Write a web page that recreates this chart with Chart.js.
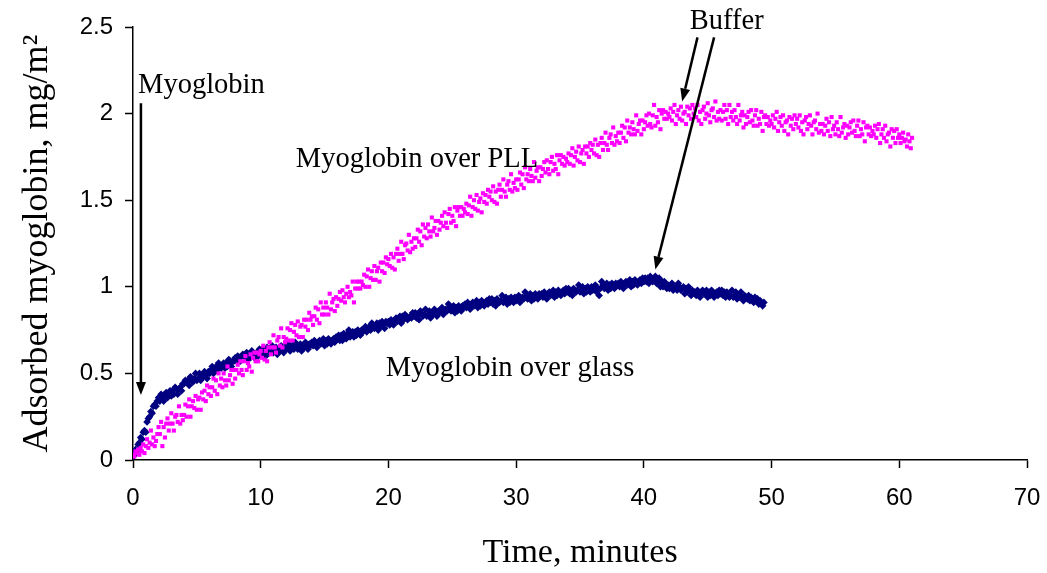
<!DOCTYPE html>
<html>
<head>
<meta charset="utf-8">
<title>Myoglobin adsorption</title>
<script src="https://cdn.jsdelivr.net/npm/chart.js@4/dist/chart.umd.min.js"></script>
<style>
  html, body { margin: 0; padding: 0; background: #fff; }
  #wrap { width: 1047px; height: 573px; }
</style>
</head>
<body>
<div id="wrap"><canvas id="adsChart" width="1047" height="573"></canvas></div>
<script>
// sampling interval of the adsorption run, minutes
const sampleStep = 0.1;

// adsorbed myoglobin over PLL, mg/m2, one reading every 0.1 min from t = 0 (2 min per row)
const pllValues = [
  0.03,0.02,0.05,0.04,0.06,0.03,0.07,0.05,0.09,0.04,0.08,0.12,0.07,0.10,0.17,0.09,0.13,0.08,0.11,0.15,
  0.19,0.15,0.22,0.08,0.19,0.13,0.21,0.24,0.17,0.21,0.27,0.21,0.17,0.25,0.26,0.22,0.31,0.21,0.26,0.23,
  0.26,0.32,0.25,0.31,0.35,0.25,0.31,0.34,0.30,0.37,0.29,0.35,0.36,0.29,0.39,0.35,0.40,0.34,0.43,0.38,
  0.42,0.37,0.42,0.47,0.40,0.46,0.38,0.50,0.43,0.47,0.42,0.50,0.46,0.43,0.54,0.46,0.49,0.52,0.44,0.52,
  0.47,0.52,0.55,0.50,0.57,0.52,0.49,0.57,0.60,0.52,0.56,0.54,0.61,0.51,0.59,0.62,0.57,0.62,0.57,0.61,
  0.63,0.59,0.66,0.58,0.63,0.57,0.65,0.68,0.61,0.65,0.72,0.65,0.62,0.69,0.71,0.66,0.76,0.65,0.71,0.68,
  0.70,0.76,0.69,0.75,0.79,0.69,0.74,0.78,0.72,0.80,0.71,0.77,0.78,0.71,0.81,0.77,0.81,0.75,0.85,0.81,
  0.83,0.78,0.83,0.88,0.81,0.87,0.79,0.91,0.84,0.88,0.84,0.91,0.88,0.84,0.96,0.87,0.91,0.93,0.86,0.94,
  0.89,0.93,0.97,0.92,0.98,0.94,0.91,0.96,1.00,0.94,0.97,0.95,1.03,0.91,0.99,1.03,0.99,1.03,0.99,1.03,
  1.01,1.07,1.00,1.06,1.10,1.00,1.05,1.09,1.04,1.12,1.04,1.09,1.11,1.03,1.14,1.09,1.14,1.08,1.17,1.13,
  1.16,1.12,1.19,1.11,1.17,1.10,1.19,1.22,1.15,1.19,1.26,1.19,1.16,1.24,1.25,1.21,1.30,1.20,1.26,1.22,
  1.28,1.23,1.28,1.33,1.26,1.32,1.24,1.36,1.29,1.34,1.28,1.36,1.32,1.29,1.40,1.32,1.34,1.38,1.30,1.38,
  1.33,1.37,1.41,1.35,1.43,1.37,1.34,1.42,1.45,1.37,1.41,1.38,1.46,1.35,1.44,1.46,1.41,1.46,1.41,1.45,
  1.43,1.48,1.42,1.47,1.52,1.41,1.46,1.50,1.45,1.53,1.44,1.49,1.51,1.43,1.54,1.49,1.53,1.48,1.56,1.52,
  1.55,1.50,1.58,1.49,1.55,1.48,1.56,1.59,1.52,1.56,1.62,1.55,1.52,1.59,1.61,1.56,1.65,1.55,1.60,1.57,
  1.62,1.56,1.62,1.66,1.59,1.65,1.57,1.69,1.62,1.65,1.61,1.68,1.64,1.61,1.72,1.63,1.67,1.69,1.61,1.69,
  1.64,1.68,1.72,1.66,1.73,1.68,1.65,1.72,1.75,1.67,1.71,1.68,1.76,1.65,1.73,1.76,1.71,1.75,1.70,1.74,
  1.72,1.77,1.71,1.76,1.80,1.70,1.75,1.78,1.73,1.81,1.72,1.77,1.79,1.71,1.81,1.77,1.81,1.75,1.83,1.79,
  1.82,1.77,1.85,1.76,1.82,1.75,1.83,1.86,1.79,1.83,1.89,1.82,1.79,1.86,1.88,1.83,1.92,1.82,1.87,1.84,
  1.89,1.83,1.89,1.93,1.86,1.92,1.84,1.96,1.89,1.92,1.88,1.95,1.91,1.88,1.99,1.90,1.94,1.96,1.88,1.96,
  1.91,1.95,1.99,1.93,2.00,1.94,1.92,1.99,2.05,1.93,1.98,1.95,2.02,1.91,2.00,2.02,1.97,2.01,1.97,2.00,
  1.98,2.03,1.96,2.01,2.05,1.94,1.99,2.02,1.97,2.04,1.96,2.00,2.01,1.94,2.04,1.99,2.03,1.97,2.05,2.00,
  2.03,1.98,2.05,1.96,2.01,1.94,2.02,2.04,1.97,2.00,2.06,1.99,1.95,2.02,2.03,1.98,2.07,1.96,2.01,1.97,
  2.02,1.96,2.01,2.05,1.97,2.02,1.94,2.05,1.98,2.01,1.96,2.02,1.98,1.94,2.05,1.96,1.99,2.01,1.92,1.99,
  1.94,1.98,2.01,1.95,2.02,1.96,1.93,1.99,2.02,1.93,1.97,1.94,2.01,1.90,1.98,1.99,1.94,1.98,1.93,1.96,
  1.94,1.99,1.92,1.97,2.01,1.90,1.95,1.98,1.93,1.99,1.90,1.95,1.96,1.88,1.98,1.93,1.97,1.91,1.99,1.94,
  1.97,1.92,1.99,1.90,1.95,1.88,1.96,1.98,1.91,1.94,1.99,1.93,1.88,1.95,1.96,1.91,2.00,1.89,1.94,1.90,
  1.94,1.88,1.93,1.97,1.90,1.95,1.87,1.98,1.91,1.93,1.88,1.95,1.91,1.87,1.98,1.89,1.92,1.94,1.86,1.93,
  1.88,1.92,1.95,1.89,1.96,1.90,1.87,1.93,1.96,1.87,1.91,1.88,1.95,1.84,1.92,1.93,1.88,1.92,1.87,1.90,
  1.88,1.93,1.86,1.91,1.94,1.83,1.88,1.91,1.86,1.93,1.84,1.88,1.89,1.81,1.91,1.86,1.90,1.83,1.91,1.86,
  1.88,1.83,1.86,1.89,1.84,1.85,1.81,1.88,1.84,1.80,1.86
];

// adsorbed myoglobin over glass, mg/m2, same sampling (2 min per row)
const glassValues = [
  0.02,0.03,0.06,0.05,0.09,0.10,0.13,0.12,0.16,0.17,0.16,0.22,0.24,0.25,0.28,0.27,0.31,0.32,0.31,0.34,
  0.36,0.34,0.38,0.36,0.34,0.38,0.39,0.36,0.38,0.40,0.37,0.40,0.38,0.42,0.41,0.38,0.41,0.42,0.40,0.44,
  0.44,0.46,0.45,0.46,0.43,0.48,0.46,0.45,0.47,0.50,0.46,0.47,0.50,0.46,0.49,0.48,0.51,0.49,0.47,0.51,
  0.50,0.52,0.54,0.50,0.52,0.54,0.52,0.56,0.54,0.53,0.54,0.56,0.53,0.56,0.54,0.58,0.56,0.54,0.57,0.57,
  0.59,0.57,0.60,0.59,0.57,0.60,0.61,0.60,0.60,0.62,0.58,0.61,0.59,0.63,0.62,0.59,0.61,0.62,0.60,0.64,
  0.62,0.64,0.61,0.63,0.60,0.65,0.63,0.62,0.63,0.66,0.62,0.63,0.65,0.61,0.64,0.63,0.66,0.64,0.62,0.65,
  0.64,0.66,0.67,0.63,0.65,0.66,0.64,0.68,0.66,0.64,0.65,0.67,0.63,0.66,0.65,0.68,0.66,0.64,0.67,0.66,
  0.68,0.66,0.69,0.67,0.65,0.68,0.69,0.67,0.68,0.70,0.66,0.69,0.67,0.70,0.69,0.67,0.69,0.70,0.68,0.71,
  0.70,0.72,0.69,0.72,0.69,0.73,0.71,0.70,0.73,0.75,0.71,0.72,0.74,0.71,0.74,0.72,0.75,0.73,0.72,0.75,
  0.74,0.76,0.77,0.74,0.76,0.77,0.75,0.79,0.78,0.76,0.77,0.79,0.75,0.79,0.77,0.80,0.78,0.76,0.80,0.79,
  0.80,0.78,0.81,0.80,0.78,0.81,0.82,0.80,0.81,0.83,0.79,0.83,0.81,0.84,0.83,0.81,0.82,0.83,0.82,0.85,
  0.83,0.85,0.82,0.84,0.81,0.86,0.84,0.83,0.84,0.87,0.83,0.84,0.86,0.82,0.85,0.84,0.87,0.85,0.83,0.86,
  0.85,0.87,0.88,0.84,0.86,0.87,0.86,0.90,0.88,0.86,0.87,0.89,0.85,0.88,0.86,0.89,0.88,0.86,0.89,0.88,
  0.90,0.88,0.91,0.89,0.87,0.90,0.91,0.89,0.90,0.92,0.88,0.91,0.89,0.92,0.91,0.89,0.91,0.92,0.90,0.93,
  0.91,0.93,0.90,0.92,0.89,0.93,0.92,0.91,0.92,0.95,0.91,0.92,0.94,0.90,0.93,0.91,0.94,0.92,0.91,0.94,
  0.92,0.94,0.95,0.91,0.93,0.94,0.93,0.97,0.95,0.93,0.94,0.96,0.92,0.95,0.93,0.96,0.95,0.93,0.96,0.95,
  0.96,0.94,0.97,0.95,0.93,0.96,0.97,0.95,0.96,0.98,0.94,0.97,0.95,0.98,0.97,0.95,0.97,0.98,0.96,0.99,
  0.97,0.99,0.96,0.98,0.95,0.99,0.98,0.97,0.98,1.01,0.97,0.98,1.00,0.96,0.99,0.97,1.00,0.98,0.97,1.00,
  0.98,1.00,1.01,0.97,0.99,0.95,0.99,1.03,1.01,0.99,1.00,1.02,0.98,1.01,0.99,1.02,1.01,0.99,1.02,1.01,
  1.02,1.00,1.03,1.01,0.99,1.02,1.03,1.01,1.02,1.04,1.00,1.03,1.01,1.04,1.03,1.01,1.03,1.04,1.02,1.05,
  1.03,1.05,1.03,1.05,1.02,1.06,1.04,1.03,1.05,1.06,1.02,1.03,1.05,1.00,1.03,1.00,1.03,1.01,0.99,1.01,
  0.99,1.01,1.02,0.98,0.99,1.00,0.98,1.02,1.00,0.98,0.99,1.00,0.96,0.99,0.97,1.00,0.98,0.95,0.98,0.97,
  0.97,0.95,0.98,0.96,0.94,0.97,0.98,0.96,0.96,0.98,0.94,0.97,0.95,0.98,0.97,0.94,0.96,0.97,0.95,0.98,
  0.96,0.98,0.95,0.97,0.94,0.97,0.95,0.94,0.95,0.98,0.94,0.95,0.97,0.93,0.95,0.94,0.97,0.94,0.92,0.95,
  0.94,0.93,0.95,0.92,0.94,0.93,0.91,0.94,0.92,0.93,0.90,0.92,0.91,0.89,0.91
];

// axis ranges and tick spacing
const xRange = [0, 70];
const xStep = 10;
const yRange = [0, 2.5];
const yStep = 0.5;

// text labels and arrows, placed in axis units
const notes = [
  { text: "Myoglobin", t: 0.4, y: 2.12 },
  { text: "Myoglobin over PLL", t: 12.75, y: 1.69 },
  { text: "Myoglobin over glass", t: 19.8, y: 0.485 },
  { text: "Buffer", t: 43.6, y: 2.49 }
];
const arrows = [
  { from: [0.62, 2.06], to: [0.62, 0.375] },
  { from: [44.2, 2.44], to: [43.0, 2.07] },
  { from: [45.5, 2.44], to: [40.9, 1.10] }
];

function toPoints(values){
  return values.map(function(v, i){
    return { x: +(i * sampleStep).toFixed(1), y: v };
  });
}

const serif = '"Liberation Serif", "Times New Roman", serif';
const sans = '"Liberation Sans", Arial, sans-serif';

// draws the annotation text and arrows on top of the points
const notesPlugin = {
  id: 'notes',
  afterDatasetsDraw: function(chart){
    const ctx = chart.ctx;
    const xs = chart.scales.x;
    const ys = chart.scales.y;
    ctx.save();
    ctx.fillStyle = '#000';
    ctx.strokeStyle = '#000';
    ctx.font = '28.5px ' + serif;
    ctx.textBaseline = 'alphabetic';
    ctx.textAlign = 'left';
    notes.forEach(function(n){
      ctx.fillText(n.text, xs.getPixelForValue(n.t), ys.getPixelForValue(n.y));
    });
    ctx.lineWidth = 2.5;
    arrows.forEach(function(a){
      const x1 = xs.getPixelForValue(a.from[0]);
      const y1 = ys.getPixelForValue(a.from[1]);
      const x2 = xs.getPixelForValue(a.to[0]);
      const y2 = ys.getPixelForValue(a.to[1]);
      const ang = Math.atan2(y2 - y1, x2 - x1);
      const head = 13, half = 5;
      const bx = x2 - head * Math.cos(ang);
      const by = y2 - head * Math.sin(ang);
      ctx.beginPath();
      ctx.moveTo(x1, y1);
      ctx.lineTo(bx, by);
      ctx.stroke();
      ctx.beginPath();
      ctx.moveTo(x2, y2);
      ctx.lineTo(bx + half * Math.sin(ang), by - half * Math.cos(ang));
      ctx.lineTo(bx - half * Math.sin(ang), by + half * Math.cos(ang));
      ctx.closePath();
      ctx.fill();
    });
    ctx.restore();
  }
};

// plain numbers on the ticks: 0, 0.5, 1, 1.5 ...
function tickText(value){
  return String(+value.toFixed(2));
}

const ctx = document.getElementById('adsChart');
const myChart = new Chart(ctx, {
  type: 'scatter',
  data: {
    datasets: [{
      label: 'Myoglobin over PLL',
      data: toPoints(pllValues),
      backgroundColor: '#FF00FF',
      borderWidth: 0,
      pointStyle: 'rect',
      pointRadius: 2.9,
      pointHoverRadius: 2.9
    }, {
      label: 'Myoglobin over glass',
      data: toPoints(glassValues),
      backgroundColor: '#000080',
      borderWidth: 0,
      pointStyle: 'rectRot',
      pointRadius: 3.8,
      pointHoverRadius: 3.8
    }]
  },
  options: {
    responsive: false,
    animation: false,
    devicePixelRatio: 1,
    layout: { padding: { top: 27, right: 20, left: 0, bottom: 0 } },
    plugins: {
      legend: { display: false },
      tooltip: { enabled: false }
    },
    scales: {
      x: {
        type: 'linear',
        min: xRange[0],
        max: xRange[1],
        ticks: {
          stepSize: xStep,
          color: '#000',
          font: { family: sans, size: 24 },
          padding: 16,
          maxRotation: 0,
          callback: tickText
        },
        grid: { drawOnChartArea: false, tickLength: 8, tickWidth: 1.5, tickColor: '#000' },
        border: { color: '#000', width: 1.5 },
        title: {
          display: true,
          text: 'Time, minutes',
          color: '#000',
          font: { family: serif, size: 34, lineHeight: 1.2 },
          padding: { top: 0, bottom: 0 }
        },
        afterFit: function(s){
          s.height = 113;
          s.paddingLeft = 0;
          s.paddingRight = 0;
        }
      },
      y: {
        type: 'linear',
        min: yRange[0],
        max: yRange[1],
        ticks: {
          stepSize: yStep,
          color: '#000',
          font: { family: sans, size: 24 },
          padding: 12,
          callback: tickText
        },
        grid: { drawOnChartArea: false, tickLength: 8, tickWidth: 1.5, tickColor: '#000' },
        border: { color: '#000', width: 1.5 },
        title: {
          display: true,
          text: 'Adsorbed myoglobin, mg/m²',
          color: '#000',
          font: { family: serif, size: 36, lineHeight: 1.2 },
          padding: { top: 16, bottom: 0 }
        },
        afterFit: function(s){
          s.width = 133;
          s.paddingTop = 0;
          s.paddingBottom = 0;
        }
      }
    }
  },
  plugins: [notesPlugin]
});
</script>
</body>
</html>
